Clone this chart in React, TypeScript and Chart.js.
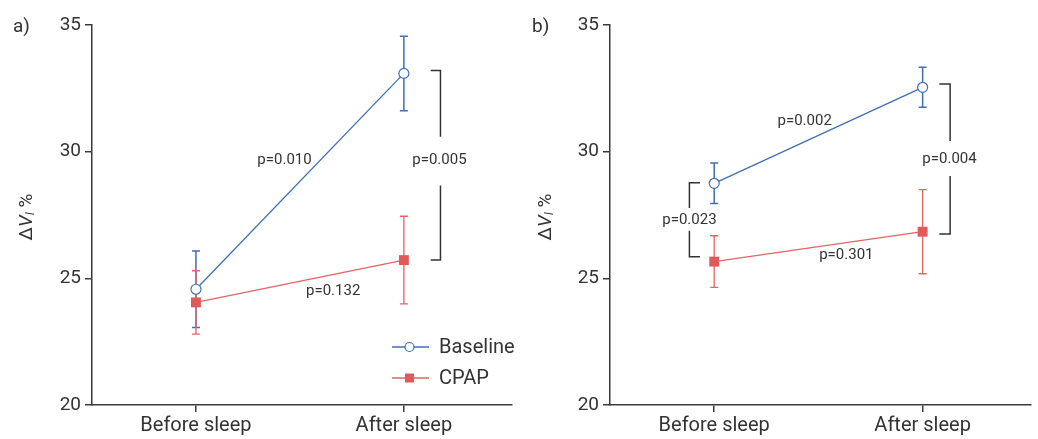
import React, { useEffect, useRef } from "react";
import { Chart, registerables } from "chart.js";

Chart.register(...registerables);

// ---------- data ----------
const categories = ["Before sleep", "After sleep"];
const yTicks = [20, 25, 30, 35];
const seriesNames = ["Baseline", "CPAP"];

// Panel a
const aBaselineMean = [24.57, 33.09];
const aBaselineErr = [1.51, 1.47];
const aCpapMean = [24.05, 25.72];
const aCpapErr = [1.25, 1.73];

// Panel b
const bBaselineMean = [28.75, 32.54];
const bBaselineErr = [0.8, 0.79];
const bCpapMean = [25.66, 26.84];
const bCpapErr = [1.02, 1.66];

// p-value labels: [x (category units), y (ΔVI %), text]
const aPValues: [number, number, string][] = [
  [0.426, 29.67, "p=0.010"],
  [0.66, 24.5, "p=0.132"],
  [1.171, 29.67, "p=0.005"],
];
const bPValues: [number, number, string][] = [
  [0.434, 31.22, "p=0.002"],
  [0.634, 25.92, "p=0.301"],
  [1.129, 29.71, "p=0.004"],
  [-0.119, 27.3, "p=0.023"],
];

// brackets: [x of spine, x of tips, top, gapTop, gapBottom, bottom]
const aBrackets: number[][] = [[1.176, 1.129, 33.2, 30.59, 28.66, 25.72]];
const bBrackets: number[][] = [
  [-0.119, -0.068, 28.77, 27.78, 26.88, 25.85],
  [1.132, 1.08, 32.67, 30.42, 29.04, 26.75],
];

// ---------- styles ----------
const FONT = "Roboto, 'Noto Sans', sans-serif";
const TEXT = "#333333";
const AXIS = "#3a3a3a";
const BLUE = "#3f6fb3";
const RED = "#e05a5a";
const RED_LINE = "#e36464";

type Panel = {
  label: string;
  baseline: number[];
  baselineErr: number[];
  cpap: number[];
  cpapErr: number[];
  pValues: [number, number, string][];
  brackets: number[][];
  legend: boolean;
  yAxisWidth: number;
};

const panels: Panel[] = [
  {
    label: "a)",
    baseline: aBaselineMean,
    baselineErr: aBaselineErr,
    cpap: aCpapMean,
    cpapErr: aCpapErr,
    pValues: aPValues,
    brackets: aBrackets,
    legend: true,
    yAxisWidth: 92,
  },
  {
    label: "b)",
    baseline: bBaselineMean,
    baselineErr: bBaselineErr,
    cpap: bCpapMean,
    cpapErr: bCpapErr,
    pValues: bPValues,
    brackets: bBrackets,
    legend: false,
    yAxisWidth: 91,
  },
];

function makePlugin(panel: Panel) {
  return {
    id: "annot",
    beforeDatasetsDraw(chart: any) {
      const ctx = chart.ctx as CanvasRenderingContext2D;
      const xs = chart.scales.x;
      const ys = chart.scales.y;
      const drawErr = (mean: number[], err: number[], color: string, w: number) => {
        ctx.save();
        ctx.strokeStyle = color;
        ctx.lineWidth = w;
        mean.forEach((m, i) => {
          const x = xs.getPixelForValue(i);
          const yt = ys.getPixelForValue(m + err[i]);
          const yb = ys.getPixelForValue(m - err[i]);
          ctx.beginPath();
          ctx.moveTo(x, yt);
          ctx.lineTo(x, yb);
          ctx.moveTo(x - 4, yt);
          ctx.lineTo(x + 4, yt);
          ctx.moveTo(x - 4, yb);
          ctx.lineTo(x + 4, yb);
          ctx.stroke();
        });
        ctx.restore();
      };
      drawErr(panel.baseline, panel.baselineErr, BLUE, 1.5);
      drawErr(panel.cpap, panel.cpapErr, RED_LINE, 1.3);
    },
    afterDraw(chart: any) {
      const ctx = chart.ctx as CanvasRenderingContext2D;
      const xs = chart.scales.x;
      const ys = chart.scales.y;
      const area = chart.chartArea;
      ctx.save();
      // brackets
      ctx.strokeStyle = "#333";
      ctx.lineWidth = 1.5;
      panel.brackets.forEach((b) => {
        const xSp = xs.getPixelForValue(b[0]);
        const xTip = xs.getPixelForValue(b[1]);
        const yTop = ys.getPixelForValue(b[2]);
        const yG1 = ys.getPixelForValue(b[3]);
        const yG2 = ys.getPixelForValue(b[4]);
        const yBot = ys.getPixelForValue(b[5]);
        ctx.beginPath();
        ctx.moveTo(xTip, yTop);
        ctx.lineTo(xSp, yTop);
        ctx.lineTo(xSp, yG1);
        ctx.moveTo(xSp, yG2);
        ctx.lineTo(xSp, yBot);
        ctx.lineTo(xTip, yBot);
        ctx.stroke();
      });
      // p values
      ctx.fillStyle = TEXT;
      ctx.font = `15px ${FONT}`;
      ctx.textAlign = "center";
      ctx.textBaseline = "middle";
      panel.pValues.forEach(([x, y, t]) => {
        ctx.fillText(t, xs.getPixelForValue(x), ys.getPixelForValue(y));
      });
      // panel label
      ctx.font = `19px ${FONT}`;
      ctx.textAlign = "left";
      ctx.fillText(panel.label, 13, 27);
      // y axis title: ΔV(I) %
      const cy = (area.top + area.bottom) / 2 + 2;
      ctx.translate(27, cy);
      ctx.rotate(-Math.PI / 2);
      const fN = `19px ${FONT}`;
      const fI = `italic 19px ${FONT}`;
      const fS = `italic 12px ${FONT}`;
      const parts: [string, string, number][] = [
        ["Δ", fN, 0],
        ["V", fI, 0],
        ["I", fS, 4],
        [" %", fN, 0],
      ];
      let total = 0;
      parts.forEach(([t, f]) => {
        ctx.font = f;
        total += ctx.measureText(t).width;
      });
      let px = -total / 2;
      parts.forEach(([t, f, dy]) => {
        ctx.font = f;
        ctx.fillText(t, px, dy);
        px += ctx.measureText(t).width;
      });
      ctx.setTransform(1, 0, 0, 1, 0, 0);
      // legend
      if (panel.legend) {
        const x0 = area.right - 120;
        const rows: [number, string, string][] = [
          [347, seriesNames[0], BLUE],
          [378, seriesNames[1], RED],
        ];
        rows.forEach(([y, name, col], i) => {
          ctx.strokeStyle = i === 0 ? BLUE : RED_LINE;
          ctx.lineWidth = 1.3;
          ctx.beginPath();
          ctx.moveTo(x0, y);
          ctx.lineTo(x0 + 37, y);
          ctx.stroke();
          const mx = x0 + 17.5;
          if (i === 0) {
            ctx.fillStyle = "#fff";
            ctx.beginPath();
            ctx.arc(mx, y, 4.5, 0, Math.PI * 2);
            ctx.fill();
            ctx.lineWidth = 1.2;
            ctx.stroke();
          } else {
            ctx.fillStyle = col;
            ctx.fillRect(mx - 4.5, y - 4.5, 9, 9);
          }
          ctx.fillStyle = TEXT;
          ctx.font = `20px ${FONT}`;
          ctx.textAlign = "left";
          ctx.textBaseline = "middle";
          ctx.fillText(name, x0 + 47, y + 1);
        });
      }
      ctx.restore();
    },
  };
}

function makeConfig(panel: Panel): any {
  return {
    type: "line",
    data: {
      datasets: [
        {
          label: seriesNames[0],
          data: panel.baseline.map((y, i) => ({ x: i, y })),
          borderColor: BLUE,
          backgroundColor: "#ffffff",
          pointBackgroundColor: "#ffffff",
          pointBorderColor: BLUE,
          pointStyle: "circle",
          pointRadius: 5,
          pointBorderWidth: 1.2,
          borderWidth: 1.3,
        },
        {
          label: seriesNames[1],
          data: panel.cpap.map((y, i) => ({ x: i, y })),
          borderColor: RED_LINE,
          backgroundColor: RED,
          pointBackgroundColor: RED,
          pointBorderColor: RED,
          pointStyle: "rect",
          pointRadius: 7,
          pointBorderWidth: 0,
          borderWidth: 1.3,
        },
      ],
    },
    options: {
      responsive: false,
      animation: false,
      events: [],
      layout: { padding: { top: 25, right: 4, left: 0, bottom: 0 } },
      plugins: { legend: { display: false }, tooltip: { enabled: false } },
      scales: {
        x: {
          type: "linear",
          min: -0.5,
          max: 1.52,
          afterBuildTicks: (s: any) => {
            s.ticks = categories.map((_, i) => ({ value: i }));
          },
          afterFit: (s: any) => {
            s.height = 34;
          },
          ticks: {
            callback: (v: number) => categories[v],
            font: { family: FONT, size: 20 },
            color: TEXT,
            padding: 2,
            maxRotation: 0,
            autoSkip: false,
          },
          grid: { drawOnChartArea: false, tickLength: 7, color: AXIS, lineWidth: 1.5 },
          border: { color: AXIS, width: 1.5 },
        },
        y: {
          type: "linear",
          min: 20,
          max: 35,
          afterBuildTicks: (s: any) => {
            s.ticks = yTicks.map((v) => ({ value: v }));
          },
          afterFit: (s: any) => {
            s.width = panel.yAxisWidth;
          },
          ticks: {
            font: { family: FONT, size: 19 },
            color: TEXT,
            padding: 4,
          },
          grid: { drawOnChartArea: false, tickLength: 7, color: AXIS, lineWidth: 1.5 },
          border: { color: AXIS, width: 1.5 },
        },
      },
    },
    plugins: [makePlugin(panel)],
  };
}

function PanelChart({ panel, left }: { panel: Panel; left: number }) {
  const ref = useRef<HTMLCanvasElement | null>(null);
  useEffect(() => {
    if (!ref.current) return;
    const chart = new Chart(ref.current, makeConfig(panel));
    return () => chart.destroy();
  }, [panel]);
  return (
    <canvas
      ref={ref}
      width={519}
      height={439}
      style={{ position: "absolute", left, top: 0, width: 519, height: 439 }}
    />
  );
}

export default function App() {
  useEffect(() => {
    document.body.style.margin = "0";
  }, []);
  return (
    <div style={{ position: "relative", width: 1038, height: 439, background: "#fff" }}>
      <PanelChart panel={panels[0]} left={0} />
      <PanelChart panel={panels[1]} left={519} />
    </div>
  );
}
